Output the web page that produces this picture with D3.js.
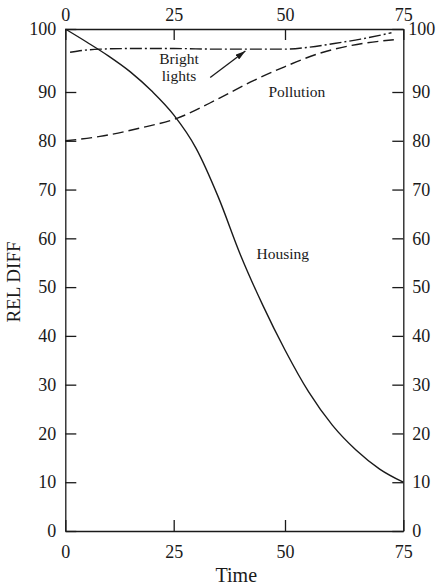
<!DOCTYPE html>
<html>
<head>
<meta charset="utf-8">
<script src="https://cdn.jsdelivr.net/npm/d3@7"></script>
<style>
  body { margin: 0; background: #fff; }
  svg { display: block; font-family: "Liberation Serif", "DejaVu Serif", serif; }
</style>
</head>
<body>
<div class="canvas"></div>
<script>
// size of the page
const width = 438;
const height = 586;

// data
const xTicks = [0, 25, 50, 75];
const yTicks = [0, 10, 20, 30, 40, 50, 60, 70, 80, 90, 100];

const housingTime = [0, 5, 10, 15, 20, 25, 30, 35, 40, 45, 50, 55, 60, 65, 70, 75];
const housingVal  = [100, 97.9, 95.7, 93.2, 90.1, 85.3, 78.5, 68.5, 56.6, 46.3, 37.1, 28.5, 21.7, 16.6, 12.7, 10];

const pollutionTime = [0, 8, 17.2, 25.7, 35.2, 42.3, 49.9, 57.1, 64.1, 73];
const pollutionVal  = [80, 80.9, 82.6, 84.6, 88.7, 91.6, 94, 96.1, 97.4, 98.3];

const lightsTime = [1.1, 4, 8, 15, 25, 35, 45, 50, 55, 60.4, 66, 72.5];
const lightsVal  = [96.3, 96.6, 96.8, 96.9, 96.9, 96.8, 96.8, 96.8, 97.1, 97.7, 98.4, 99.4];

const labels = [
  { text: ["Bright", "lights"], t: 26.2, v: 94.4 },
  { text: ["Pollution"], t: 52.5, v: 89.0 },
  { text: ["Housing"], t: 49.5, v: 55.8 }
];
const arrowFrom = [33.2, 92.3];
const arrowTo = [41.1, 96.5];

// scales (the scanned figure is slightly stretched, so piecewise)
const x = d3.scaleLinear()
  .domain([0, 25, 50, 75])
  .range([65.3, 173.7, 285, 403.3]);

const y = d3.scaleLinear()
  .domain([0, 90, 100])
  .range([531, 92, 29]);

const svg = d3.select(".canvas").append("svg")
  .attr("width", width)
  .attr("height", height);

const ink = "#1a1a1a";
const tick = 11;

// axes, ticks point inward
function styleAxis(g) {
  g.selectAll("path").attr("stroke", ink).attr("stroke-width", 1.3);
  g.selectAll("line").attr("stroke", ink).attr("stroke-width", 1.3);
  g.selectAll("text").attr("fill", ink).style("font-size", "18px").style("font-family", "'Liberation Serif', serif");
}

svg.append("g")
  .attr("transform", `translate(0,${y(0)})`)
  .call(d3.axisBottom(x).tickValues(xTicks).tickSize(-tick).tickSizeOuter(0).tickPadding(14))
  .call(styleAxis);

svg.append("g")
  .attr("transform", `translate(0,${y(100)})`)
  .call(d3.axisTop(x).tickValues(xTicks).tickSize(-tick).tickSizeOuter(0).tickPadding(8))
  .call(styleAxis);

svg.append("g")
  .attr("transform", `translate(${x(0)},0)`)
  .call(d3.axisLeft(y).tickValues(yTicks).tickSize(-tick).tickSizeOuter(0).tickPadding(9))
  .call(styleAxis);

svg.append("g")
  .attr("transform", `translate(${x(75)},0)`)
  .call(d3.axisRight(y).tickValues(yTicks).tickSize(-tick).tickSizeOuter(0).tickPadding(9))
  .call(styleAxis)
  .selectAll("text")
  .attr("dx", d => d === 100 ? -4 : 0);

// axis titles
svg.append("text")
  .attr("x", (x(0) + x(75)) / 2 + 2)
  .attr("y", 582)
  .attr("text-anchor", "middle")
  .attr("fill", ink)
  .style("font-size", "20px")
  .text("Time");

svg.append("text")
  .attr("transform", `translate(20,${(y(0) + y(100)) / 2 + 2}) rotate(-90)`)
  .attr("text-anchor", "middle")
  .attr("fill", ink)
  .style("font-size", "19px")
  .text("REL DIFF");

// curves
const line = d3.line()
  .x(d => x(d[0]))
  .y(d => y(d[1]))
  .curve(d3.curveMonotoneX);

const series = [
  { t: housingTime, v: housingVal, dash: null },
  { t: pollutionTime, v: pollutionVal, dash: "11,5" },
  { t: lightsTime, v: lightsVal, dash: "12,3,2,3" }
];

svg.selectAll("path.curve")
  .data(series)
  .join("path")
  .attr("class", "curve")
  .attr("d", s => line(s.t.map((t, i) => [t, s.v[i]])))
  .attr("fill", "none")
  .attr("stroke", ink)
  .attr("stroke-width", 1.4)
  .attr("stroke-dasharray", s => s.dash);

// arrow for the bright lights label
svg.append("defs").append("marker")
  .attr("id", "head")
  .attr("viewBox", "0 0 10 6")
  .attr("refX", 10)
  .attr("refY", 3)
  .attr("markerWidth", 10)
  .attr("markerHeight", 6)
  .attr("markerUnits", "userSpaceOnUse")
  .attr("orient", "auto")
  .append("path")
  .attr("d", "M0,0L10,3L0,6Z")
  .attr("fill", ink);

svg.append("line")
  .attr("x1", x(arrowFrom[0]))
  .attr("y1", y(arrowFrom[1]))
  .attr("x2", x(arrowTo[0]))
  .attr("y2", y(arrowTo[1]))
  .attr("stroke", ink)
  .attr("stroke-width", 1.3)
  .attr("marker-end", "url(#head)");

// curve labels
labels.forEach(l => {
  const txt = svg.append("text")
    .attr("text-anchor", "middle")
    .attr("fill", ink)
    .style("font-size", "15.5px");
  l.text.forEach((s, i) => {
    txt.append("tspan")
      .attr("x", x(l.t))
      .attr("y", y(l.v) + i * 17)
      .text(s);
  });
});
</script>
</body>
</html>
